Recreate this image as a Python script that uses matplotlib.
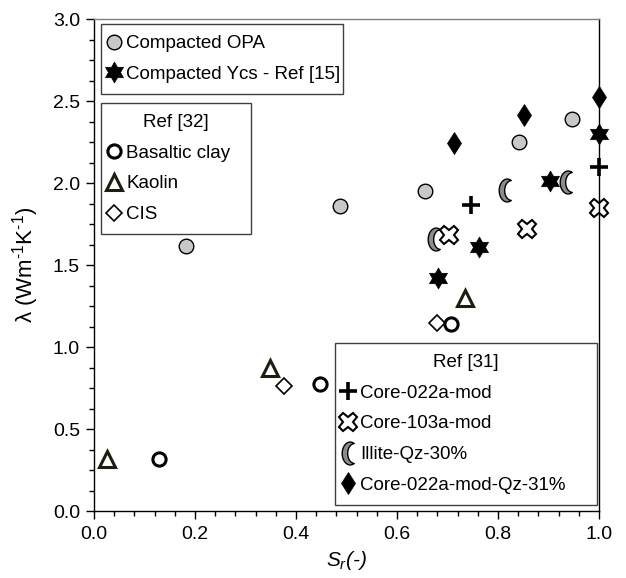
import numpy as np
import matplotlib
matplotlib.use("Agg")
import matplotlib.pyplot as plt
from matplotlib.path import Path
from matplotlib.ticker import MultipleLocator

plt.rcParams['font.family'] = ['Liberation Sans', 'DejaVu Sans']
plt.rcParams['mathtext.fontset'] = 'custom'
plt.rcParams['mathtext.rm'] = 'Liberation Sans'
plt.rcParams['mathtext.it'] = 'Liberation Sans:italic'

# data
opa_sr = [0.182, 0.488, 0.655, 0.842, 0.946]
opa_k = [1.615, 1.862, 1.951, 2.252, 2.390]

ycs_sr = [0.682, 0.763, 0.903, 1.0]
ycs_k = [1.419, 1.612, 2.014, 2.300]

basalt_sr = [0.129, 0.447, 0.706]
basalt_k = [0.320, 0.772, 1.140]

kaolin_sr = [0.025, 0.349, 0.734]
kaolin_k = [0.315, 0.870, 1.300]

cis_sr = [0.376, 0.680]
cis_k = [0.764, 1.144]

c022_sr = [0.747, 1.0]
c022_k = [1.866, 2.096]

c103_sr = [0.703, 0.858, 1.0]
c103_k = [1.683, 1.720, 1.845]

illite_sr = [0.673, 0.813, 0.935]
illite_k = [1.658, 1.957, 2.008]

c022qz_sr = [0.713, 0.852, 1.0]
c022qz_k = [2.246, 2.415, 2.526]


def moon_path():
    a = np.radians(60)
    t1 = np.linspace(a, 2*np.pi - a, 40)
    outer = np.column_stack([np.cos(t1), np.sin(t1)])
    c = 0.55
    r2 = np.hypot(np.cos(a) - c, np.sin(a))
    a0 = np.arctan2(-np.sin(a), np.cos(a) - c) + 2*np.pi
    a1 = np.arctan2(np.sin(a), np.cos(a) - c)
    t2 = np.linspace(a0, a1, 40)
    inner = np.column_stack([c + r2*np.cos(t2), r2*np.sin(t2)])
    v = np.vstack([outer, inner, outer[:1]])
    v[:, 0] = v[:, 0]*0.7 + 0.15
    return Path(v, closed=True)


def star6_path():
    ang = np.radians(90 + 30*np.arange(12))
    r = np.where(np.arange(12) % 2 == 0, 1.0, 1/np.sqrt(3))
    v = np.column_stack([r*np.cos(ang), r*np.sin(ang)])
    v = np.vstack([v, v[:1]])
    return Path(v, closed=True)


fig = plt.figure(figsize=(6.26, 5.78), dpi=100)
ax = fig.add_axes([0.150, 0.1159, 0.807, 0.8512])

kw = dict(linestyle='none', clip_on=False)
h_opa, = ax.plot(opa_sr, opa_k, marker='o', ms=10.5, mfc='#c8c8c8', mec='black', mew=1.0,
                 label='Compacted OPA', **kw)
h_ycs, = ax.plot(ycs_sr, ycs_k, marker=star6_path(), ms=15, mfc='black', mec='black', mew=0.5,
                 label='Compacted Ycs - Ref [15]', **kw)
h_cis, = ax.plot(cis_sr, cis_k, marker='D', ms=8.5, mfc='white', mec='black', mew=1.2,
                 label='CIS', **kw)
h_bas, = ax.plot(basalt_sr, basalt_k, marker='o', ms=9.5, mfc='white', mec='black', mew=2.2,
                 label='Basaltic clay', **kw)
h_kao, = ax.plot(kaolin_sr, kaolin_k, marker='^', ms=11.5, mfc='white', mec='#1e1e10', mew=2.2,
                 label='Kaolin', **kw)
h_ill, = ax.plot(illite_sr, illite_k, marker=moon_path(), ms=16.5, mfc='#8c8c8c', mec='black', mew=1.0,
                 label='Illite-Qz-30%', **kw)
h_c022, = ax.plot(c022_sr, c022_k, marker='+', ms=13, mec='black', mew=2.6,
                  label='Core-022a-mod', **kw)
h_c103, = ax.plot(c103_sr, c103_k, marker='X', ms=13.5, mfc='white', mec='black', mew=1.5,
                  label='Core-103a-mod', **kw)
h_qz, = ax.plot(c022qz_sr, c022qz_k, marker='d', ms=11.5, mfc='black', mec='black', mew=0.5,
                label='Core-022a-mod-Qz-31%', **kw)

ax.set_xlim(0, 1.0)
ax.set_ylim(0, 3.0)
ax.xaxis.set_major_locator(MultipleLocator(0.2))
ax.xaxis.set_minor_locator(MultipleLocator(0.04))
ax.yaxis.set_major_locator(MultipleLocator(0.5))
ax.yaxis.set_minor_locator(MultipleLocator(0.125))
ax.xaxis.set_major_formatter(lambda v, p: f'{v:.1f}')
ax.yaxis.set_major_formatter(lambda v, p: f'{v:.1f}')
ax.tick_params(which='both', direction='out', top=False, right=False, labelsize=14, width=1.0)
ax.tick_params(which='major', length=6)
ax.tick_params(axis='x', which='major', pad=5)
ax.tick_params(axis='y', which='major', pad=4)
ax.tick_params(which='minor', length=3.5)

for s in ['left', 'bottom', 'right']:
    ax.spines[s].set_linewidth(1.0)
    ax.spines[s].set_color('black')
ax.spines['top'].set_color('#808080')
ax.spines['top'].set_linewidth(1.0)

ax.set_xlabel(r'$S_r$(-)', fontsize=15, fontstyle='italic', labelpad=4)
ax.set_ylabel('λ (Wm$^{\\text{-}1}$K$^{\\text{-}1}$)', fontsize=16)
ax.yaxis.set_label_coords(-0.105, 0.5)

W, H = 626.0, 578.0
leg_kw = dict(fontsize=13.5, frameon=True, fancybox=False, mode='expand', borderaxespad=0,
              handlelength=0.15, handletextpad=0.6, borderpad=0.6, labelspacing=0.72,
              bbox_transform=fig.transFigure, title_fontsize=13.5)

leg1 = ax.legend(handles=[h_opa, h_ycs], loc='upper left',
                 bbox_to_anchor=(101/W, 1 - 95/H, 242/W, 71/H), **leg_kw)
leg2 = ax.legend(handles=[h_bas, h_kao, h_cis], title='Ref [32]', loc='upper left',
                 bbox_to_anchor=(101/W, 1 - 229/H, 150/W, 126/H), **leg_kw)
leg3 = ax.legend(handles=[h_c022, h_c103, h_ill, h_qz], title='Ref [31]', loc='lower left',
                 bbox_to_anchor=(335/W, 1 - 505/H, 262/W, 160/H), **leg_kw)
for lg in (leg1, leg2, leg3):
    fr = lg.get_frame()
    fr.set_edgecolor('#404040')
    fr.set_linewidth(1.0)
    fr.set_alpha(1)
ax.add_artist(leg1)
ax.add_artist(leg2)

fig.savefig('out.png', dpi=100)
